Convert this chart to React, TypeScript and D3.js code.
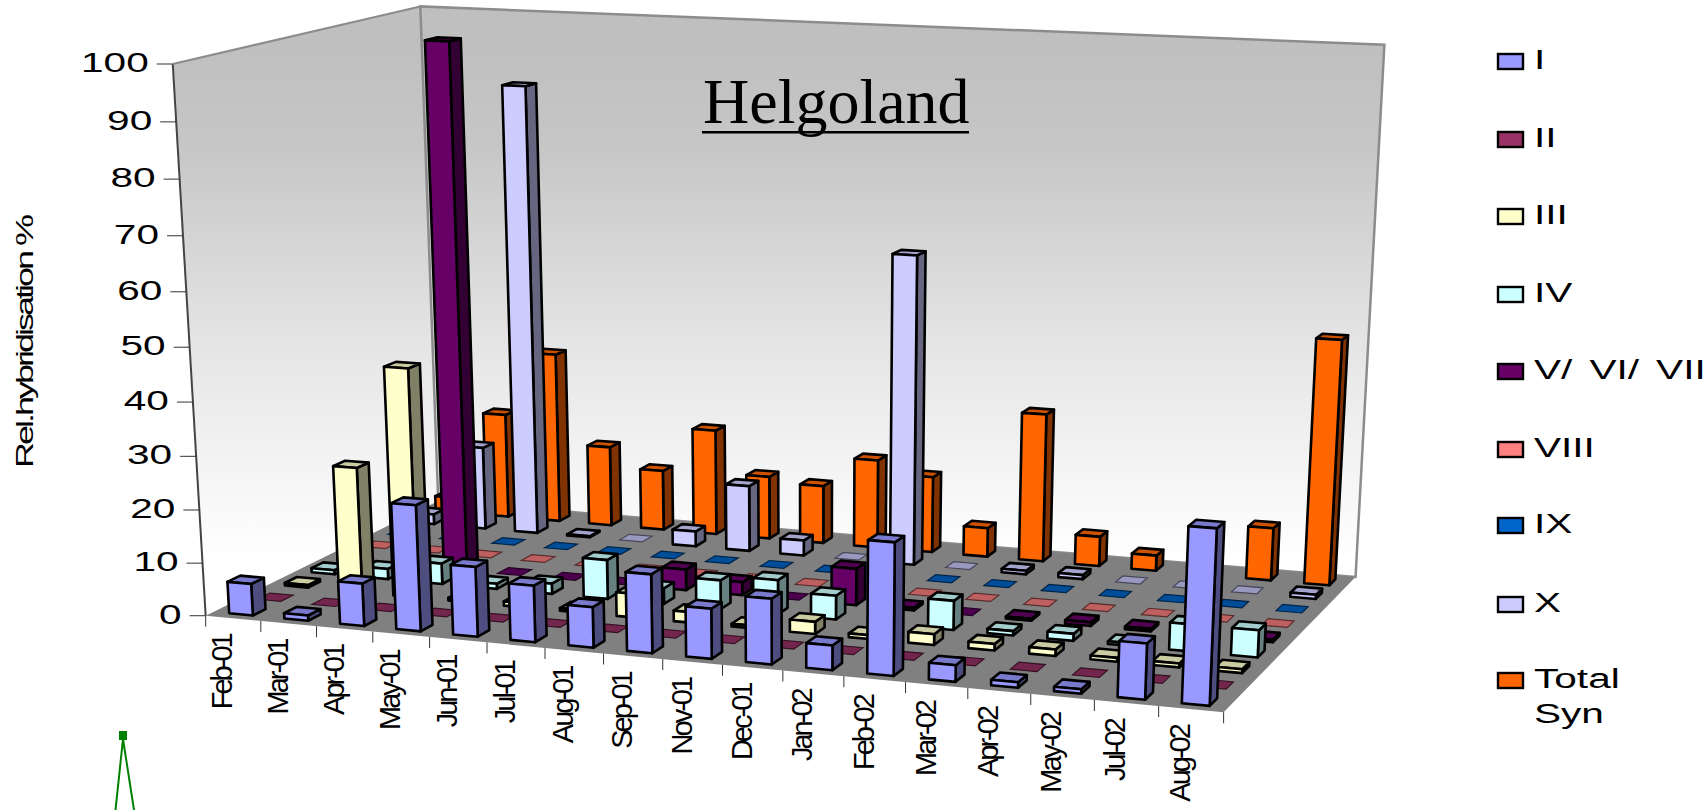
import React from "react";
import * as d3 from "d3";

const categories = ["Feb-01","Mar-01","Apr-01","May-01","Jun-01","Jul-01","Aug-01","Sep-01","Nov-01","Dec-01","Jan-02","Feb-02","Mar-02","Apr-02","May-02","Jul-02","Aug-02"];
const seriesNames = ["I","II","III","IV","V/ VI/ VII","VIII","IX","X","Total Syn"];
const seriesColors = ["#9999FF","#993366","#FFFFCC","#CCFFFF","#660066","#FF8080","#0066CC","#CCCCFF","#FF6600"];
const valuesI = [6,1,8,23.5,13,10.5,7.5,14.5,9.2,12,4.5,24,3,1,0.8,10,31];
const valuesII = [0,0,0,0,0,0,0,0,0,0,0,0,0,0,0,0,0];
const valuesIII = [0.5,24,43.5,0.5,0.8,0.5,4.5,2,0.5,2.3,0.7,2,1.2,1.2,0.7,0.7,0.7];
const valuesIV = [0.8,2,4,1,2,7.5,3,5.5,6.5,4.5,0,5.5,0.8,1.3,0.5,5,5];
const valuesV = [0,0,100,0,0,0,4,2.5,0,7,0.5,0,0.4,0.7,0.5,0,0.5];
const valuesVIII = [0,0,0,0,0,0,0,0,0,0,0,0,0,0,0,0,0];
const valuesIX = [0,0,0,0,0,0,0,0,0,0,0,0,0,0,0,0,0];
const valuesX = [2,16.5,88,0.2,0,3,13,3,0,60,0,0.7,0.8,0,0,0,0.8];
const valuesTotal = [3,21,34,16,12,21,12.5,11.5,17.5,15,5.7,29,5.8,3,3,10.2,47];
const allValues = [valuesI,valuesII,valuesIII,valuesIV,valuesV,valuesVIII,valuesIX,valuesX,valuesTotal];
const yTicks = [0,10,20,30,40,50,60,70,80,90,100];
const legendBaselines = [69,147,224,302,379,457,533,612,688];

// Camera calibration: corners of the plot box (u along categories, v depth, h height) -> screen
const corners: [number,number,number,number,number][] = [
  [0,0,0,206,616],[1,0,0,1223,713],[1,1,0,1356,576],[0,1,0,438,501],
  [0,0,1,173,63],[0,1,1,420,7],[1,1,1,1384.5,45],
];
function solveCamera() {
  const A: number[][] = [], b: number[] = [];
  for (const [u,v,h,x,y] of corners) {
    A.push([u,v,h,1,0,0,0,0,-x*u,-x*v,-x*h]); b.push(x);
    A.push([0,0,0,0,u,v,h,1,-y*u,-y*v,-y*h]); b.push(y);
  }
  const n = 11;
  const M = Array.from({length:n},(_, i)=>{
    const r = new Array(n+1).fill(0);
    for (let j=0;j<n;j++) for (let k=0;k<A.length;k++) r[j]+=A[k][i]*A[k][j];
    for (let k=0;k<A.length;k++) r[n]+=A[k][i]*b[k];
    r[i]+=1e-9;
    return r;
  });
  for (let i=0;i<n;i++){
    let p=i; for(let r=i+1;r<n;r++) if(Math.abs(M[r][i])>Math.abs(M[p][i])) p=r;
    [M[i],M[p]]=[M[p],M[i]];
    for(let r=0;r<n;r++) if(r!==i){const f=M[r][i]/M[i][i]; for(let c=i;c<=n;c++) M[r][c]-=f*M[i][c];}
  }
  return M.map((r,i)=>r[n]/r[i]);
}
const C = solveCamera();
const project = (u:number,v:number,h:number):[number,number] => {
  const w = C[8]*u+C[9]*v+C[10]*h+1;
  return [(C[0]*u+C[1]*v+C[2]*h+C[3])/w,(C[4]*u+C[5]*v+C[6]*h+C[7])/w];
};

const uScale = d3.scaleBand<string>().domain(categories).range([0,1]).paddingInner(0.57).paddingOuter(0.285);
const uEdge = d3.scalePoint<number>().domain(d3.range(categories.length+1)).range([0,1]);
const vScale = d3.scaleBand<string>().domain(seriesNames).range([0,1]).paddingInner(0.55).paddingOuter(0.275);
const hScale = d3.scaleLinear().domain([0,100]).range([0,1]);
const poly = d3.line<[number,number]>().curve(d3.curveLinearClosed);
const shade = (c:string,k:number)=>{const r=d3.rgb(c);return d3.rgb(r.r*k,r.g*k,r.b*k).formatHex();};

function Bars(){
  const out: React.ReactElement[] = [];
  for (let s=seriesNames.length-1;s>=0;s--){
    const v0=vScale(seriesNames[s])!, v1=v0+vScale.bandwidth();
    categories.forEach((cat,c)=>{
      const val=allValues[s][c];
      const u0=uScale(cat)!, u1=u0+uScale.bandwidth();
      const h=hScale(val);
      const color=seriesColors[s];
      const top=poly([project(u0,v0,h),project(u1,v0,h),project(u1,v1,h),project(u0,v1,h)])!;
      if(val===0){
        out.push(<path key={`${s}-${c}`} d={top} fill={shade(color,0.75)} stroke={shade(color,0.35)} strokeWidth={1.2}/>);
        return;
      }
      const front=poly([project(u0,v0,0),project(u1,v0,0),project(u1,v0,h),project(u0,v0,h)])!;
      const side=poly([project(u1,v0,0),project(u1,v1,0),project(u1,v1,h),project(u1,v0,h)])!;
      out.push(<g key={`${s}-${c}`} stroke="#000" strokeWidth={2.6} strokeLinejoin="round">
        <path d={side} fill={shade(color,0.5)}/>
        <path d={top} fill={shade(color,0.8)}/>
        <path d={front} fill={color}/>
      </g>);
    });
  }
  return <g>{out}</g>;
}

const font="'Liberation Sans', Arial, sans-serif";
export default function App(){
  const leftWall=poly([project(0,0,0),project(0,1,0),project(0,1,1),project(0,0,1)])!;
  const backWall=poly([project(0,1,0),project(1,1,0),project(1,1,1),project(0,1,1)])!;
  const floor=poly([project(0,0,0),project(1,0,0),project(1,1,0),project(0,1,0)])!;
  return (
    <svg width={1707} height={810} style={{position:"absolute",left:0,top:0,background:"#fff"}}>
      <defs>
        <linearGradient id="wall" gradientUnits="userSpaceOnUse" x1="0" y1="40" x2="0" y2="560">
          <stop offset="0" stopColor="#bfbfbf"/>
          <stop offset="0.2" stopColor="#c6c6c6"/>
          <stop offset="0.6" stopColor="#e6e6e6"/>
          <stop offset="1" stopColor="#ffffff"/>
        </linearGradient>
      </defs>
      <path d={leftWall} fill="url(#wall)" stroke="none"/>
      <path d={backWall} fill="url(#wall)" stroke="#8c8c8c" strokeWidth={2.5}/>
      <line x1={project(0,0,0)[0]} y1={project(0,0,0)[1]} x2={project(0,0,1)[0]} y2={project(0,0,1)[1]} stroke="#444" strokeWidth={2}/>
      <line x1={project(0,0,1)[0]} y1={project(0,0,1)[1]} x2={project(0,1,1)[0]} y2={project(0,1,1)[1]} stroke="#8c8c8c" strokeWidth={2}/>
      <path d={floor} fill="#808080"/>
      {yTicks.map(t=>{const [x,y]=project(0,0,hScale(t));return <g key={t}>
        <line x1={x-16} y1={y} x2={x} y2={y} stroke="#333" strokeWidth={1}/>
        <text transform={`translate(${x-24},${y+8}) scale(1.45,1)`} textAnchor="end" fontFamily={font} fontSize={28} fill="#000">{t}</text>
      </g>;})}
      {d3.range(categories.length+1).map(i=>{const [x,y]=project(uEdge(i)!,0,0);return <line key={i} x1={x} y1={y} x2={x} y2={y+11} stroke="#333" strokeWidth={1}/>;})}
      {categories.map((c)=>{const u=uScale(c)!+uScale.bandwidth()/2;const [x,y]=project(u,0,0);return (
        <text key={c} transform={`translate(${x-1},${y+17}) rotate(-90)`} textAnchor="end" fontFamily={font} fontSize={29} letterSpacing={-3} fill="#000">{c}</text>);})}
      <text transform="translate(33,468) rotate(-90) scale(1,0.685)" fontFamily={font} fontSize={36} letterSpacing={-3} fill="#000">Rel.hybridisation %</text>
      <Bars/>
      <text x={703} y={123} fontFamily="'Liberation Serif', 'Times New Roman', serif" fontSize={64} fill="#000">Helgoland</text>
      <rect x={702} y={131} width={267} height={2.5} fill="#000"/>
      {seriesNames.map((n,i)=>{const b=legendBaselines[i];return <g key={n}>
        <rect x={1498} y={b-15} width={25} height={15} fill={seriesColors[i]} stroke="#000" strokeWidth={2.4}/>
        {n==="Total Syn"
          ? <g fontFamily={font} fontSize={28}><text transform={`translate(1534,${b}) scale(1.45,1)`}>Total</text><text transform={`translate(1534,${b+35}) scale(1.45,1)`}>Syn</text></g>
          : <text transform={`translate(1534,${b}) scale(1.45,1)`} fontFamily={font} fontSize={28} wordSpacing={4} style={{whiteSpace:"pre"}}>{n}</text>}
      </g>;})}
      <rect x={119} y={731} width={8} height={9} fill="#008000"/>
      <path d="M123,739 L115.5,810 M123,739 L134,810" stroke="#008000" strokeWidth={2} fill="none"/>
    </svg>
  );
}
